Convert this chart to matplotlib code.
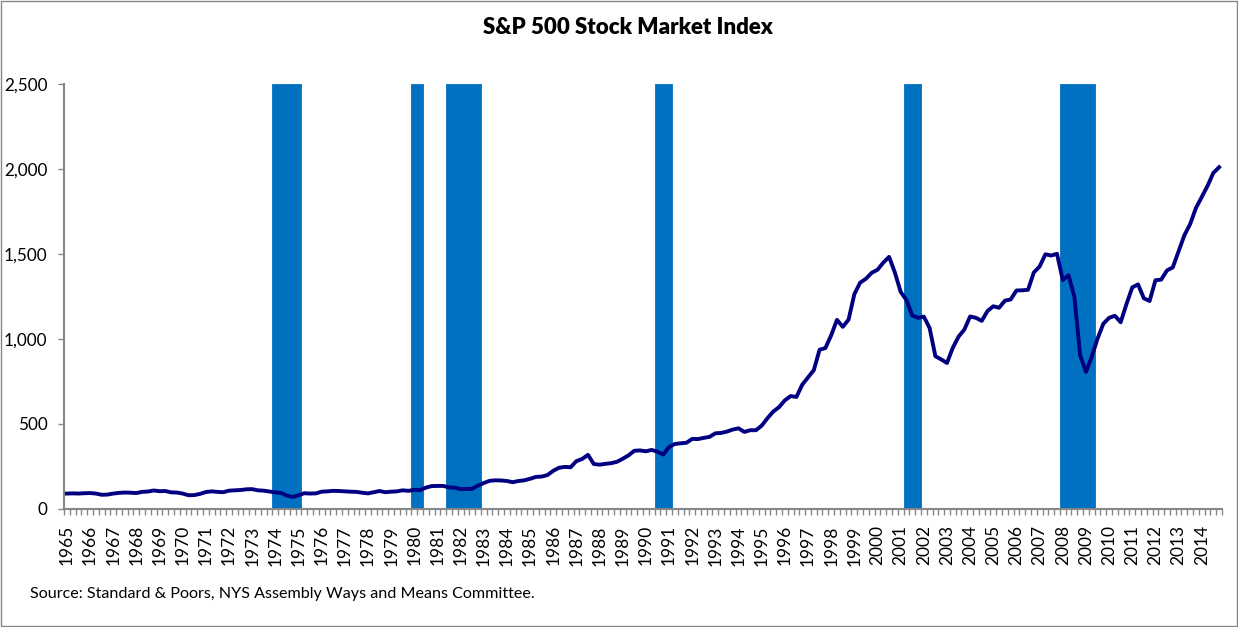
import matplotlib
matplotlib.use("Agg")
from matplotlib import pyplot as plt
from matplotlib.patches import Rectangle

plt.rcParams['font.family'] = ['Lato', 'DejaVu Sans']

# quarterly average of the S&P 500, 1965Q1 .. 2014Q4
years = list(range(1965, 2015))
sp500 = [
    88, 89, 88, 90,   91, 88, 81, 82,   88, 92, 94, 93,   91, 98, 100, 106,
    102, 103, 95, 94,   88, 78, 79, 86,   97, 101, 98, 96,   105, 107, 109, 113,
    114, 107, 105, 100,   95, 91, 76, 68,   78, 90, 88, 89,   99, 101, 104, 103,
    101, 99, 98, 93,   89, 96, 103, 96,   99, 101, 107, 104,   110, 108, 123, 132,
    133, 133, 124, 123,   114, 115, 116, 135,   150, 163, 166, 165,   162, 155, 162, 166,
    175, 186, 188, 197,   222, 240, 245, 243,   279, 292, 316, 262,   258, 263, 267, 275,
    293, 313, 340, 342,   337, 345, 334, 318,   362, 380, 384, 387,   410, 409, 416, 422,
    443, 445, 453, 465,   472, 451, 461, 461,   488, 532, 571, 597,   637, 662, 657, 729,
    772, 815, 935, 945,   1020, 1111, 1070, 1112,   1262, 1330, 1353, 1388,   1406, 1448, 1482, 1390,
    1276, 1227, 1137, 1123,   1130, 1063, 897, 878,   857, 946, 1012, 1054,   1131, 1123, 1105, 1163,
    1191, 1182, 1224, 1231,   1284, 1285, 1288, 1390,   1425, 1497, 1490, 1500,   1345, 1374, 1246, 903,
    805, 893, 1000, 1088,   1123, 1135, 1097, 1204,   1302, 1320, 1238, 1222,   1344, 1348, 1402, 1420,
    1514, 1609, 1675, 1770,   1834, 1900, 1976, 2010,
]
# recession quarters (first, last), shaded as full height columns
recessions = [("1974Q1", "1975Q1"), ("1980Q1", "1980Q2"), ("1981Q3", "1982Q4"),
              ("1990Q3", "1991Q1"), ("2001Q2", "2001Q4"), ("2008Q1", "2009Q2")]


def qidx(s):
    return (int(s[:4]) - 1965) * 4 + int(s[5]) - 1


fig = plt.figure(figsize=(12.38, 6.27), dpi=100)
ax = fig.add_axes([64 / 1238, 1 - 508.5 / 627, (1222 - 64) / 1238, (508.5 - 84) / 627])

grey = '#868686'
for start, end in recessions:
    qs = list(range(qidx(start), qidx(end) + 1))
    ax.bar(qs, [2500] * len(qs), width=1.0, color='#0070C0', edgecolor='#0070C0',
           linewidth=0.6, zorder=1)

ax.plot(range(len(sp500)), sp500, color='#000080', linewidth=2.8, zorder=3,
        solid_joinstyle='round')

ax.set_xlim(-0.5, len(sp500) - 0.5)
ax.set_ylim(0, 2500)

ax.set_xticks([i * 4 for i in range(len(years))])
ax.set_xticklabels([str(y) for y in years], rotation=90, fontsize=12.5)
ax.set_xticks([i - 0.5 for i in range(len(sp500) + 1)], minor=True)
ax.tick_params(axis='x', which='major', length=0, pad=12)
ax.tick_params(axis='x', which='minor', length=4, width=1, color=grey, direction='out')

ax.set_yticks([0, 500, 1000, 1500, 2000, 2500])
ax.set_yticklabels(['0', '500', '1,000', '1,500', '2,000', '2,500'], fontsize=12.3)
ax.tick_params(axis='y', length=4, width=1, color=grey, pad=8)

for side in ['top', 'right']:
    ax.spines[side].set_visible(False)
for side in ['left', 'bottom']:
    ax.spines[side].set_color(grey)
    ax.spines[side].set_linewidth(1.5)

fig.text(628 / 1238, 1 - 27 / 627, 'S&P 500 Stock Market Index', ha='center', va='center',
         fontsize=16, fontweight='heavy')
fig.text(30 / 1238, 1 - 594 / 627,
         'Source: Standard & Poors, NYS Assembly Ways and Means Committee.',
         ha='left', va='center', fontsize=11.6)

fig.patches.append(Rectangle((0.0008, 0.0015), 0.9984, 0.997, transform=fig.transFigure,
                             fill=False, edgecolor=grey, linewidth=1))

plt.savefig('out.png', dpi=100)
plt.close()
